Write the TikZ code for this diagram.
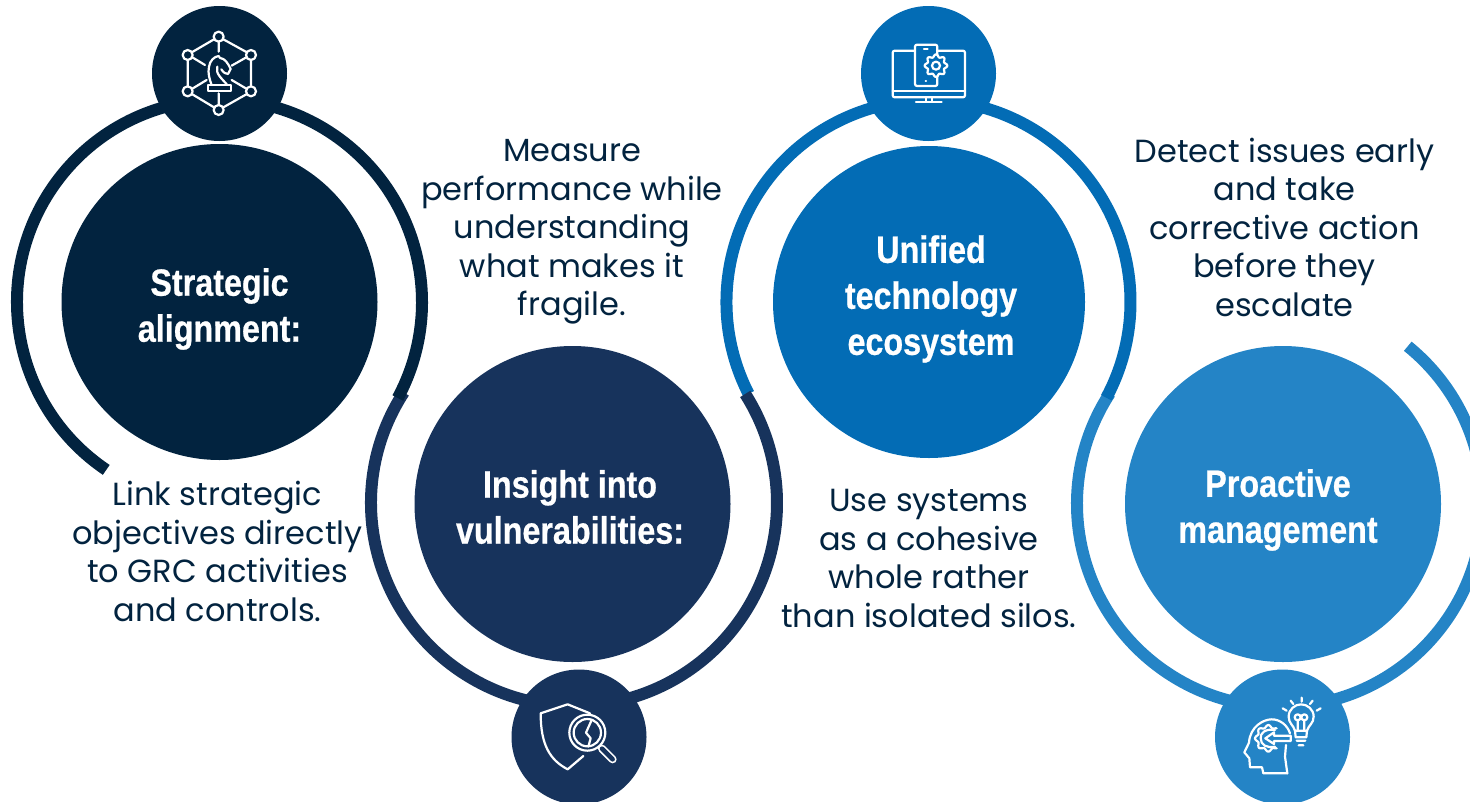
\documentclass[tikz,border=0pt]{standalone}
\usepackage{fontspec}
\setmainfont{Poppins}
\newfontfamily\headfont[FakeStretch=0.85,BoldFeatures={FakeBold=0.6}]{Liberation Sans}
\usetikzlibrary{positioning,calc}
\definecolor{navyA}{HTML}{02233F}
\definecolor{navyB}{HTML}{17335C}
\definecolor{blueC}{HTML}{036CB5}
\definecolor{blueD}{HTML}{2484C6}
\tikzset{
  bigdisc/.style={circle,inner sep=0pt,minimum size=316pt},
  headline/.style={text=white,align=center,inner sep=0pt,
    font=\headfont\bfseries\fontsize{38}{46}\selectfont},
  icondisc/.style={circle,inner sep=0pt,minimum size=135pt},
  ring/.style={line width=12pt},
  blurb/.style={text=navyA,align=center,inner sep=0pt,
    font=\fontsize{32}{38.5}\selectfont},
  iconline/.style={draw=white,line width=2.2pt,line join=round,line cap=round}
}
\begin{document}
\begin{tikzpicture}[x=1pt,y=-1pt]
  \useasboundingbox (0,0) rectangle (1470,801);
  \coordinate (A) at (219.5,302);
  \coordinate (B) at (574,503);
  \coordinate (C) at (928.5,302);
  \coordinate (D) at (1280,504);
  \draw[ring,blueD] ($(D)+(213:203)$) arc[start angle=213,end angle=-51,radius=203];
  \draw[ring,blueC] ($(C)+(153:202)$) arc[start angle=153,end angle=388.3,radius=202];
  \draw[ring,navyB] ($(B)+(213:203)$) arc[start angle=213,end angle=-32.5,radius=203];
  \draw[ring,navyA] ($(A)+(124:202.5)$) arc[start angle=124,end angle=388.3,radius=202.5];

  \node[bigdisc,fill=navyA] (strategic) at (219.5,302) {};
  \node[bigdisc,fill=navyB] (insight) at (572.5,504) {};
  \node[bigdisc,fill=blueC,minimum size=312pt] (unified) at (929,302) {};
  \node[bigdisc,fill=blueD] (proactive) at (1283,504) {};

  \node[headline] (strategicT) at (219.5,309) {Strategic\\alignment:};
  \node[headline] (insightT) at (570,507) {Insight into\\vulnerabilities:};
  \node[headline] (unifiedT) at (931,299) {Unified\\technology\\ecosystem};
  \node[headline] (proactiveT) at (1278,510) {Proactive\\management};

  \node[icondisc,fill=navyA] (chess) at (219.5,73.5) {};
  \node[icondisc,fill=blueC] (devices) at (928.5,73.5) {};
  \node[icondisc,fill=navyB] (shield) at (579,737) {};
  \node[icondisc,fill=blueD] (brain) at (1282.5,737) {};

  \node[blurb] (link) at (217.5,551.5) {Link strategic\\objectives directly\\to GRC activities\\and controls.};
  \node[blurb] (measure) at (572,232) {Measure\\performance while\\understanding\\what makes it\\fragile.};
  \node[blurb] (systems) at (929,558.5) {Use systems\\as a cohesive\\whole rather\\than isolated silos.};
  \node[blurb] (detect) at (1284.5,227) {Detect issues early\\and take\\corrective action\\before they\\escalate};

  \begin{scope}[shift={(140,0)},x=0.3333pt,y=-0.3333pt]
    \foreach \px/\py in {236/110,333/165,143/165,143/274,333/274,236/330}
      \draw[iconline] (\px,\py) circle[radius=15];
    \draw[iconline] (222,118) -- (157,156) (250,118) -- (319,156)
      (143,180) -- (143,259) (333,180) -- (333,259)
      (157,283) -- (222,322) (319,283) -- (250,322)
      (236,125) -- (236,155) (236,280) -- (236,315)
      (157,172) -- (195,195) (319,172) -- (275,197)
      (157,266) -- (200,240) (319,266) -- (275,240);
    \draw[iconline] (205,256) rectangle (272,273);
    \draw[iconline] (215,255) .. controls (208,235) and (203,220) .. (207,200)
      .. controls (210,182) and (222,170) .. (236,168) -- (240,174)
      .. controls (255,175) and (264,190) .. (272,207) -- (264,222)
      .. controls (258,222) and (250,218) .. (244,208);
    \draw[iconline] (232,200) .. controls (225,220) and (245,235) .. (262,255);
  \end{scope}

  \begin{scope}[shift={(850,0)},x=0.3333pt,y=-0.3333pt]
    \draw[iconline,rounded corners=2pt] (128,152) rectangle (345,292);
    \draw[iconline] (128,272) -- (345,272) (228,292) -- (228,305) (245,292) -- (245,305)
      (198,305) -- (275,305);
    \draw[iconline,fill=blueC,rounded corners=2pt] (195,134) rectangle (262,258);
    \draw[iconline] (222,148) -- (233,148) (227,243) -- (228,243);
    \draw[iconline,fill=blueC,shift={(258,197)}]
      plot[domain=0:360,samples=73,smooth] (\x:{30+4*cos(8*\x)}) -- cycle;
    \draw[iconline] (258,197) circle[radius=12];
  \end{scope}

  \begin{scope}[shift={(500,670)},x=0.3333pt,y=-0.3333pt]
    \draw[iconline] (250,258) -- (203,298) .. controls (150,270) and (122,225) .. (122,130)
      -- (203,103) -- (270,130);
    \draw[iconline,line width=8pt] (306,236) -- (338,268);
    \draw[draw=navyB,line width=4.5pt,line cap=round] (306,236) -- (338,268);
    \draw[iconline,fill=navyB] (262,188) circle[radius=54];
    \draw[iconline] (262,188) circle[radius=41];
    \draw[iconline] (275,150) -- (258,188) -- (272,205) -- (265,230);
  \end{scope}

  \begin{scope}[shift={(1200,670)},x=0.3333pt,y=-0.3333pt]
    \draw[iconline] (262,310) -- (190,310) -- (186,292) -- (150,292) -- (148,265)
      -- (133,247) -- (147,218) .. controls (150,170) and (190,148) .. (215,148)
      .. controls (240,148) and (262,165) .. (270,190);
    \draw[iconline] (262,310) -- (255,260) -- (258,225);
    \draw[iconline,shift={(205,205)}]
      plot[domain=50:310,samples=53,smooth] (\x:{36+4*cos(8*\x)});
    \draw[iconline] (225,180) .. controls (195,175) and (180,190) .. (182,205)
      .. controls (182,225) and (200,235) .. (225,230);
    \draw[iconline,fill=blueD] (272,197) -- (222,197) -- (222,187) -- (196,205)
      -- (222,222) -- (222,213) -- (272,213) -- cycle;
    \draw[iconline] (285,182) .. controls (280,165) and (266,160) .. (266,140)
      .. controls (266,118) and (285,103) .. (303,103)
      .. controls (322,103) and (341,118) .. (341,140)
      .. controls (341,160) and (326,165) .. (321,182) -- cycle;
    \draw[iconline] (285,182) -- (287,202) -- (319,202) -- (321,182)
      (290,212) -- (316,212) (296,226) -- (310,226);
    \draw[iconline] (293,182) -- (293,150) (313,182) -- (313,150)
      (293,142) circle[radius=9] (313,142) circle[radius=9];
    \draw[iconline] (305,83) -- (305,95) (272,92) -- (280,102) (338,92) -- (330,102)
      (248,115) -- (260,122) (362,115) -- (350,122);
  \end{scope}
\end{tikzpicture}
\end{document}
